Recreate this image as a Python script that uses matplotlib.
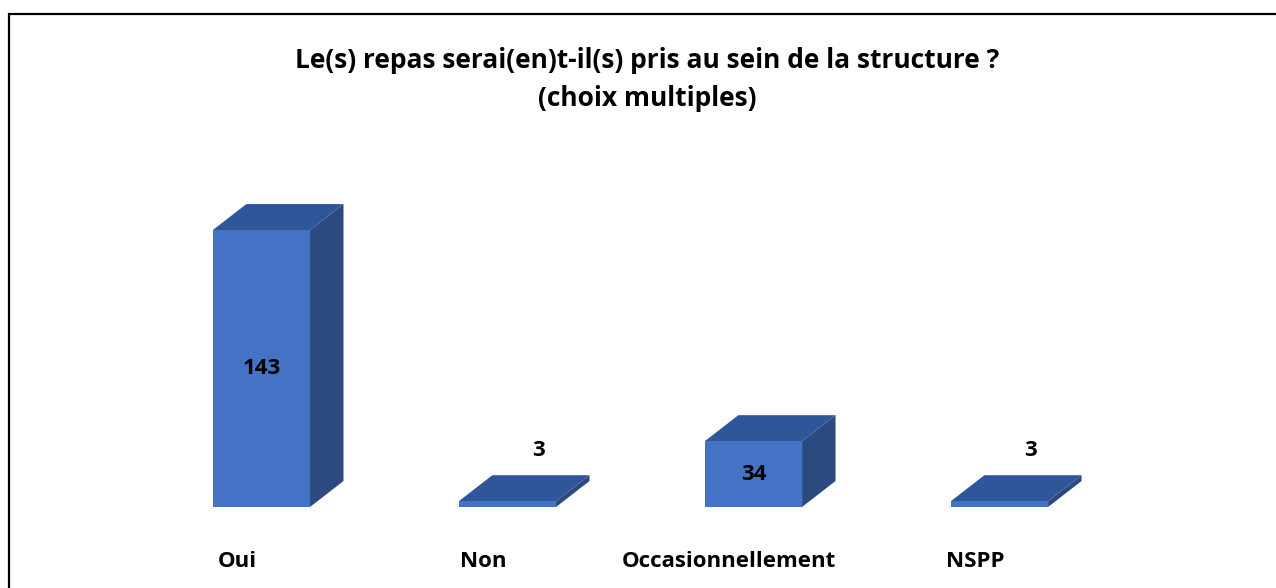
import matplotlib.pyplot as plt
from matplotlib.patches import Polygon, Rectangle

plt.rcParams['font.family'] = ['Open Sans', 'DejaVu Sans']

# data
categories = ['Oui', 'Non', 'Occasionnellement', 'NSPP']
values = [143, 3, 34, 3]
title = "Le(s) repas serai(en)t-il(s) pris au sein de la structure ?\n(choix multiples)"

# colours of the three visible faces
c_front = '#4472C4'
c_top = '#30569A'
c_side = '#2B4A80'

def draw_bar3d(ax, x, h, width=0.395, dx=0.136, dy=13.4):
    """Draw one pseudo-3D bar (front, top, side faces)."""
    x0, x1 = x - width / 2, x + width / 2
    front = [(x0, 0), (x1, 0), (x1, h), (x0, h)]
    top = [(x0, h), (x1, h), (x1 + dx, h + dy), (x0 + dx, h + dy)]
    side = [(x1, 0), (x1 + dx, dy), (x1 + dx, h + dy), (x1, h)]
    ax.add_patch(Polygon(side, closed=True, facecolor=c_side, edgecolor='none', clip_on=False))
    ax.add_patch(Polygon(top, closed=True, facecolor=c_top, edgecolor='none', clip_on=False))
    ax.add_patch(Polygon(front, closed=True, facecolor=c_front, edgecolor='none', clip_on=False))

fig = plt.figure(figsize=(12.76, 5.88), dpi=100)
ax = fig.add_axes([0.1085, 0.1378, 0.7712, 0.527])
ax.set_xlim(-0.5, 3.5)
ax.set_ylim(0, 160)
ax.axis('off')

for i, (cat, v) in enumerate(zip(categories, values)):
    draw_bar3d(ax, i, v)
    if v > 20:
        ax.text(i, v / 2, str(v), ha='center', va='center', fontsize=16,
                fontweight='bold', color='black')
    else:
        ax.text(i + 0.125, v + 26, str(v), ha='center', va='center', fontsize=16,
                fontweight='bold', color='black')
    ax.text(i - 0.1, -28, cat, ha='center', va='center', fontsize=16,
            fontweight='bold', color='black')

fig.text(0.507, 0.865, title, ha='center', va='center', fontsize=19,
         fontweight='bold', linespacing=1.55)

# chart border
fig.patches.append(Rectangle((9 / 1276, -0.05), 1.1, (588 - 14) / 588 + 0.05,
                             transform=fig.transFigure, fill=False,
                             edgecolor='black', linewidth=1.6))

fig.savefig('out.png', dpi=100)
